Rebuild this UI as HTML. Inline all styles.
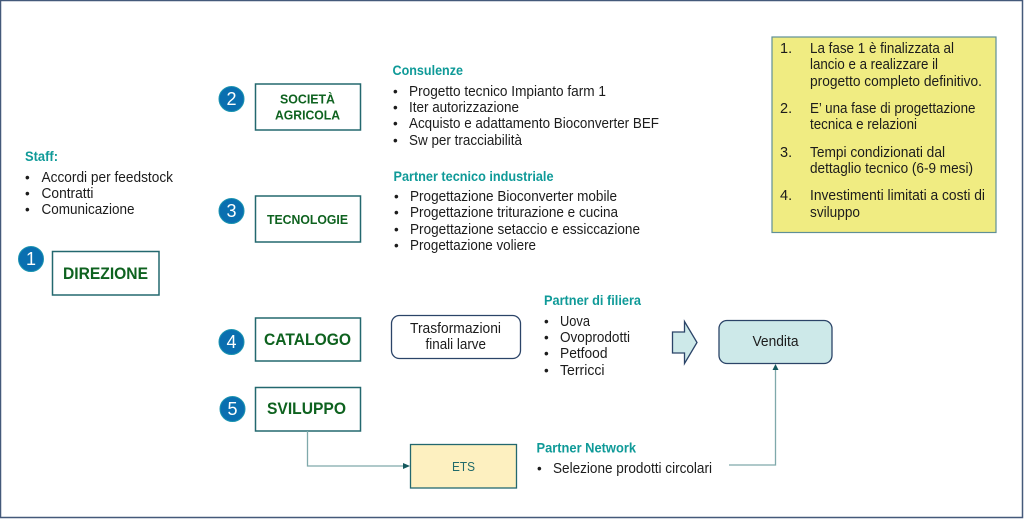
<!DOCTYPE html>
<html lang="it">
<head>
<meta charset="utf-8">
<title>Diagramma fase 1</title>
<style>
html,body{margin:0;padding:0;background:#fff;width:1024px;height:519px;overflow:hidden}
svg{display:block;filter:blur(0.3px)}
text{font-family:"Liberation Sans",sans-serif;fill:#1c1c1c;font-size:14.5px}
.h{font-weight:bold;fill:#0f9a98;font-size:14px}
.g{font-weight:bold;fill:#0e621f}
.n{fill:#fff;font-size:18px;text-anchor:middle}
.box{fill:#fff;stroke:#23686f;stroke-width:1.5}
.c{fill:#0a6fb0;stroke:#1b94b0;stroke-width:1}
.b{font-size:13.5px}
.l{fill:none;stroke:#7fa9ab;stroke-width:1.3}
</style>
</head>
<body>
<svg width="1024" height="519" viewBox="0 0 1024 519" xmlns="http://www.w3.org/2000/svg">
<rect x="0.5" y="0.5" width="1022" height="517" fill="#fff" stroke="#44597a" stroke-width="1.5"/>

<!-- Staff -->
<text class="h" x="25" y="161" textLength="33" lengthAdjust="spacingAndGlyphs">Staff:</text>
<text class="b" x="25" y="182">•</text><text x="41.5" y="182" textLength="131.5" lengthAdjust="spacingAndGlyphs">Accordi per feedstock</text>
<text class="b" x="25" y="198">•</text><text x="41.5" y="198" textLength="52" lengthAdjust="spacingAndGlyphs">Contratti</text>
<text class="b" x="25" y="214">•</text><text x="41.5" y="214" textLength="93" lengthAdjust="spacingAndGlyphs">Comunicazione</text>

<!-- Boxes -->
<rect class="box" x="52.5" y="251.5" width="106.5" height="43.5"/>
<text class="g" x="63" y="279" style="font-size:16.5px" textLength="85" lengthAdjust="spacingAndGlyphs">DIREZIONE</text>
<circle class="c" cx="31" cy="259" r="12.5"/><text class="n" x="31" y="265">1</text>

<rect class="box" x="255.5" y="84" width="105" height="46"/>
<text class="g" x="280" y="103.5" style="font-size:12.5px" textLength="55" lengthAdjust="spacingAndGlyphs">SOCIETÀ</text>
<text class="g" x="275" y="119.5" style="font-size:12.5px" textLength="65" lengthAdjust="spacingAndGlyphs">AGRICOLA</text>
<circle class="c" cx="231.5" cy="99" r="12.5"/><text class="n" x="231.5" y="105">2</text>

<rect class="box" x="255.5" y="196" width="105" height="46"/>
<text class="g" x="267" y="224" style="font-size:12.5px" textLength="81" lengthAdjust="spacingAndGlyphs">TECNOLOGIE</text>
<circle class="c" cx="231.5" cy="211" r="12.5"/><text class="n" x="231.5" y="217">3</text>

<rect class="box" x="255.5" y="318" width="105" height="43"/>
<text class="g" x="264" y="345" style="font-size:16.5px" textLength="87" lengthAdjust="spacingAndGlyphs">CATALOGO</text>
<circle class="c" cx="231.5" cy="342" r="12.5"/><text class="n" x="231.5" y="348">4</text>

<rect class="box" x="255.5" y="387.5" width="105" height="43.5"/>
<text class="g" x="267" y="414" style="font-size:16.5px" textLength="79" lengthAdjust="spacingAndGlyphs">SVILUPPO</text>
<circle class="c" cx="232.5" cy="409" r="12.5"/><text class="n" x="232.5" y="415">5</text>

<!-- Consulenze -->
<text class="h" x="392.5" y="75" textLength="70.5" lengthAdjust="spacingAndGlyphs">Consulenze</text>
<text class="b" x="393" y="96">•</text><text x="409" y="96" textLength="197" lengthAdjust="spacingAndGlyphs">Progetto tecnico Impianto farm 1</text>
<text class="b" x="393" y="112">•</text><text x="409" y="112" textLength="110" lengthAdjust="spacingAndGlyphs">Iter autorizzazione</text>
<text class="b" x="393" y="128">•</text><text x="409" y="128" textLength="250" lengthAdjust="spacingAndGlyphs">Acquisto e adattamento Bioconverter BEF</text>
<text class="b" x="393" y="145">•</text><text x="409" y="145" textLength="113" lengthAdjust="spacingAndGlyphs">Sw per tracciabilità</text>

<!-- Partner tecnico -->
<text class="h" x="393.5" y="181" textLength="160" lengthAdjust="spacingAndGlyphs">Partner tecnico industriale</text>
<text class="b" x="394" y="201">•</text><text x="410" y="201" textLength="207" lengthAdjust="spacingAndGlyphs">Progettazione Bioconverter mobile</text>
<text class="b" x="394" y="217">•</text><text x="410" y="217" textLength="208" lengthAdjust="spacingAndGlyphs">Progettazione triturazione e cucina</text>
<text class="b" x="394" y="234">•</text><text x="410" y="234" textLength="230" lengthAdjust="spacingAndGlyphs">Progettazione setaccio e essiccazione</text>
<text class="b" x="394" y="250">•</text><text x="410" y="250" textLength="126" lengthAdjust="spacingAndGlyphs">Progettazione voliere</text>

<!-- Trasformazioni -->
<rect x="391.5" y="315.5" width="129" height="43" rx="8" fill="#fff" stroke="#2b4468" stroke-width="1.3"/>
<text x="410" y="333" textLength="91" lengthAdjust="spacingAndGlyphs">Trasformazioni</text>
<text x="425.5" y="349" textLength="60.5" lengthAdjust="spacingAndGlyphs">finali larve</text>

<!-- Partner di filiera -->
<text class="h" x="544" y="305" textLength="97" lengthAdjust="spacingAndGlyphs">Partner di filiera</text>
<text class="b" x="544" y="326">•</text><text x="560" y="326" textLength="30" lengthAdjust="spacingAndGlyphs">Uova</text>
<text class="b" x="544" y="342">•</text><text x="560" y="342" textLength="70" lengthAdjust="spacingAndGlyphs">Ovoprodotti</text>
<text class="b" x="544" y="358">•</text><text x="560" y="358" textLength="47.5" lengthAdjust="spacingAndGlyphs">Petfood</text>
<text class="b" x="544" y="375">•</text><text x="560" y="375" textLength="44.5" lengthAdjust="spacingAndGlyphs">Terricci</text>

<!-- Block arrow -->
<polygon points="672.5,332 684.5,332 684.5,321.5 697,342.5 684.5,363.5 684.5,353 672.5,353" fill="#cde9e9" stroke="#2b4468" stroke-width="1.3"/>

<!-- Vendita -->
<rect x="719" y="320.5" width="113" height="43" rx="8" fill="#cde9e9" stroke="#2b4468" stroke-width="1.3"/>
<text x="752.5" y="346" textLength="46" lengthAdjust="spacingAndGlyphs">Vendita</text>

<!-- ETS -->
<rect x="410.5" y="444.5" width="106" height="43.5" fill="#fdf0c0" stroke="#23686f" stroke-width="1.3"/>
<text x="452" y="471" style="font-size:13px;fill:#206a6a" textLength="23" lengthAdjust="spacingAndGlyphs">ETS</text>

<!-- Connectors -->
<polyline class="l" points="307.5,431 307.5,466 404,466"/>
<polygon points="403,463 410,466 403,469" fill="#14595e"/>
<polyline class="l" points="729,465 775.5,465 775.5,369"/>
<polygon points="772.5,370 775.5,364 778.5,370" fill="#14595e"/>

<!-- Partner Network -->
<text class="h" x="536.5" y="452.5" textLength="99.5" lengthAdjust="spacingAndGlyphs">Partner Network</text>
<text class="b" x="537" y="473">•</text><text x="553" y="473" textLength="159" lengthAdjust="spacingAndGlyphs">Selezione prodotti circolari</text>

<!-- Yellow note -->
<rect x="772" y="37" width="224" height="195.5" fill="#f0ec82" stroke="#5f8f96" stroke-width="1.2"/>
<text x="780" y="53">1.</text>
<text x="810" y="53" textLength="144" lengthAdjust="spacingAndGlyphs">La fase 1 è finalizzata al</text>
<text x="810" y="69" textLength="128" lengthAdjust="spacingAndGlyphs">lancio e a realizzare il</text>
<text x="810" y="86" textLength="172" lengthAdjust="spacingAndGlyphs">progetto completo definitivo.</text>
<text x="780" y="113">2.</text>
<text x="810" y="113" textLength="165.5" lengthAdjust="spacingAndGlyphs">E’ una fase di progettazione</text>
<text x="810" y="129" textLength="107" lengthAdjust="spacingAndGlyphs">tecnica e relazioni</text>
<text x="780" y="157">3.</text>
<text x="810" y="157" textLength="135" lengthAdjust="spacingAndGlyphs">Tempi condizionati dal</text>
<text x="810" y="173" textLength="163" lengthAdjust="spacingAndGlyphs">dettaglio tecnico (6-9 mesi)</text>
<text x="780" y="200">4.</text>
<text x="810" y="200" textLength="175" lengthAdjust="spacingAndGlyphs">Investimenti limitati a costi di</text>
<text x="810" y="217" textLength="50" lengthAdjust="spacingAndGlyphs">sviluppo</text>
</svg>
</body>
</html>
